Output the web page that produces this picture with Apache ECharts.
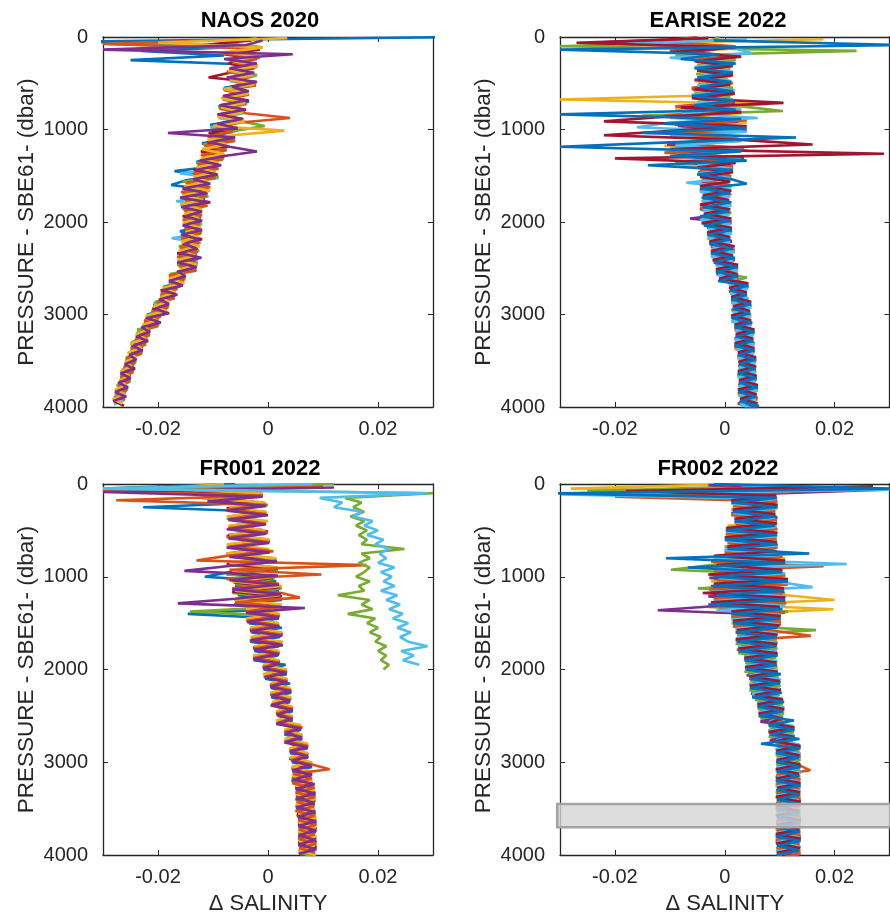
<!DOCTYPE html>
<html><head><meta charset="utf-8">
<script src="https://cdn.jsdelivr.net/npm/echarts@6/dist/echarts.min.js"></script>
<style>html,body{margin:0;padding:0;background:#fff}#c{width:890px;height:920px}</style>
</head><body><div id="c"></div>
<script>
// ---------- pressure sampling of the profiles (dbar) ----------
const PRESSURE_A = [0,50,100,150,200,250,300,350,400,450,500,550,600,650,700,750,800,850,900,950,1000,1050,1100,1150,1200,1250,1300,1350,1400,1450,1500,1550,1600,1650,1700,1750,1800,1850,1900,1950,2000,2050,2100,2150,2200,2250,2300,2350,2400,2450,2500,2550,2600,2650,2700,2750,2800,2850,2900,2950,3000,3050,3100,3150,3200,3250,3300,3350,3400,3450,3500,3550,3600,3650,3700,3750,3800,3850,3900,3950,4000];
const PRESSURE_B = [25,75,125,175,225,275,325,375,425,475,525,575,625,675,725,775,825,875,925,975,1025,1075,1125,1175,1225,1275,1325,1375,1425,1475,1525,1575,1625,1675,1725,1775,1825,1875,1925,1975,2025,2075,2125,2175,2225,2275,2325,2375,2425,2475,2525,2575,2625,2675,2725,2775,2825,2875,2925,2975,3025,3075,3125,3175,3225,3275,3325,3375,3425,3475,3525,3575,3625,3675,3725,3775,3825,3875,3925,3975,4025];
const PRESSURE_C = [12,62,112,162,212,262,312,362,412,462,512,562,612,662,712,762,812,862,912,962,1012,1062,1112,1162,1212,1262,1312,1362,1412,1462,1512,1562,1612,1662,1712,1762,1812,1862,1912,1962,2012,2062,2112,2162,2212,2262,2312,2362,2412,2462,2512,2562,2612,2662,2712,2762,2812,2862,2912,2962,3012,3062,3112,3162,3212,3262,3312,3362,3412,3462,3512,3562,3612,3662,3712,3762,3812,3862,3912,3962,4012];
const PRESSURE_D = [37,87,137,187,237,287,337,387,437,487,537,587,637,687,737,787,837,887,937,987,1037,1087,1137,1187,1237,1287,1337,1387,1437,1487,1537,1587,1637,1687,1737,1787,1837,1887,1937,1987,2037,2087,2137,2187,2237,2287,2337,2387,2437,2487,2537,2587,2637,2687,2737,2787,2837,2887,2937,2987,3037,3087,3137,3187,3237,3287,3337,3387,3437,3487,3537,3587,3637,3687,3737,3787,3837,3887,3937,3987,4037];

// ---------- Δ salinity profiles, in units of 0.001 ----------
// NAOS 2020
const naos_blue = [35,
 -35,-2,-23,-8,-25,-2.5,-7,-3,-6.5,-2.5,
 -8,-4,-7.5,-3.5,-9,-4.5,-8.5,-5,-10.5,-6,
 -10,-7,-12,-8,-11.5,-9,-13,-10,-17,-9.5,
 -15,-17.6,-11,-15.5,-11.5,-14.5,-12.5,-15,-12.2,-14.8,
 -12.5,-16,-13,-15,-12.8,-16,-13,-16.2,-12.8,-15.8,
 -15.2,-17.8,-15.5,-19,-17,-19.5,-18.2,-20.8,-18.5,-22,
 -20,-22.5,-21.8,-23.8,-22,-24.8,-22.8,-25,-24.2,-25.8,
 -24.5,-26.5,-25,-26.8,-25.8,-27.2,-26,-28,null,null];
const naos_cyan = [-4,
 -29,-3,-8,-2,-7,-3,-6.5,-2.5,-7,-3,
 -7.5,-4,-8,-3.8,-8.8,-4.5,-9,-5,-10.5,-6,
 -10.8,-6.5,-11.5,-8,-12,-8.5,-12.8,-9.5,-16,-9,
 -15,-11,-15.5,-10.8,-16.7,-11.5,-15,-12.2,-15.2,-12,
 -15,-12.5,-17.5,-12.2,-15.5,-13,-16,-12.8,-16.2,-13,
 -17.5,-15.2,-17.8,-16.8,-19.2,-17,-20.8,-18.2,-21,-19.8,
 -22.2,-20,-23.5,-21.8,-24,-22.8,-24.8,-23,-25.8,-24.2,
 -26,-25,-26.5,-25,-27.2,-25.8,-27.5,-26.2,-28,null];
const naos_green = [-2,
 -8,-1,-6,-1.5,-7,-2.2,-6.8,-2,-7.2,-2.8,
 -8.2,-3.8,-7.8,-4,-9,-4.2,-8.8,-4.8,-0.6,-5.8,
 -10.5,-6,-11.8,-7.8,-12,-8,-13,-9.2,-13.2,-9,
 -15.5,-10.8,-15.2,-11,-15,-11.5,-15.5,-12.5,-15.2,-12.2,
 -15.2,-12,-15.5,-12.8,-16.2,-12.5,-16,-13,-16.5,-13.2,
 -17.8,-15,-18,-16.5,-19.2,-17.2,-20.5,-18,-21.2,-19.5,
 -22.5,-19.8,-23.8,-21.5,-24,-22.5,-25,-22.8,-25.8,-24,
 -26.2,-24.5,-26.8,-25,-27.5,-25.5,-27.8,-26.2,null,null];
const naos_maroon = [-3,
 -12,-1.5,-8,-2,-7.2,-2.5,-7,-10.8,-2.2,-6.8,
 -3.8,-8,-3.5,-8.5,-4,-9.2,-4.5,-9,-5.5,-10.8,
 -6,-11,-7.2,-12.2,-7.8,-12.4,-9,-13.5,-9.2,-13.2,
 -10.8,-15.5,-11,-15.8,-10.5,-15.2,-12.2,-15.5,-12,-15.2,
 -12.2,-15.2,-12,-15.5,-12.8,-16.5,-12.5,-16.2,-13,-16.5,
 -15.2,-17.8,-15.5,-19.5,-16.8,-19.2,-18.2,-21,-18,-22.2,
 -19.8,-22.2,-21.5,-24,-21.8,-24.8,-22.8,-25,-24,-26,
 -24.2,-26.5,-25,-26.8,-25.5,-27.5,-25.8,-28,-26.2,null];
const naos_orange = [-5,
 -30,-2,-8.5,-1.5,-6.5,-2,-7.5,-3,-6,-2.2,
 -8,-3.5,-8.2,-4,-8.8,-4,4,-5,-9.5,-6.5,
 -11,-6,-11.5,-7.5,-12.2,-8.2,-12.8,-9,-13.5,-9.5,
 -14.8,-10.5,-15.8,-11.2,-15,-11,-15.2,-12,-15.5,-12.5,
 -15,-12.2,-15.8,-12.5,-16,-12.8,-16.5,-13.2,-16.2,-13,
 -18,-15.2,-17.5,-16.5,-19.5,-17,-20.2,-18.2,-21,-19.5,
 -22.5,-20,-23,-21.5,-24.2,-22.2,-24.8,-23,-25.8,-24.2,
 -26.2,-24.5,-26.8,-25.2,-27.2,-25.8,-27.5,-26,null,null];
const naos_yellow = [3.5,
 -20,-1,-7.5,-2.5,-6.2,-1.8,-7.2,-2.8,-7,-2.5,
 -8,-3.6,-8.5,-4.2,-8.5,-4.5,-9.2,-4.2,-10,3,
 -6.5,-11,-7.5,-12,-8,-12.2,-9,-13,-9.5,-13.5,
 -11,-15.2,-10.5,-15.5,-11.8,-16,-12,-15.2,-12.5,-15.5,
 -12.2,-15,-12.8,-15.8,-12.4,-16.2,-13.2,-16.5,-12.8,-16,
 -15.5,-18,-15.2,-19.2,-16.8,-19.5,-18,-20.8,-18.5,-22.2,
 -20.2,-22.8,-21.8,-24,-22.2,-25,-23,-25.5,-24,-26,
 -24.8,-26.8,-25.2,-27,-25.8,-27.8,-26,-28.2,-26.5,null];
const naos_purple = [-1,
 -4,-30,4.5,-8,-2,-7,-2.5,-7.5,-2,-6.5,
 -3.5,-8.2,-4,-8.8,-4.2,-9,-4.8,-9.2,-5.5,-18.2,
 -6,-10.5,-7,-2,-8,-12.4,-8.5,-13.2,-9.2,-13.6,
 -10.5,-15.5,-11.2,-16,-10.8,-15.8,-12,-15,-12.2,-15.5,
 -12,-15.8,-12.5,-15.2,-13,-16,-12.1,-16.5,-13,-16.2,
 -15,-18,-15.5,-19.2,-16.5,-19.8,-18,-20.5,-18.2,-22,
 -19.5,-23,-21.5,-23.8,-22,-24.5,-23,-25.2,-24,-26,
 -24.5,-26.8,-25,-27.2,-25.5,-27.8,-26,-28.2,null,null];

// EARISE 2022
const ea_green = [-1,
 -3,-30,24,-9,2,-5,1,-5.2,0.5,-4.8,
 1.5,-5.5,1,-5,3,10.6,-15,2,-9,3.5,
 -8,2.5,-10,3,-7,1.5,-9,1,-4.5,1.2,
 -4,0.8,-4.2,1,-3.8,0.5,-4.5,1.2,-4,0.5,
 -3,1,-2.8,1.2,-2.2,1.5,-2.5,1.8,-1.5,2,
 -1,4,1,4.2,0.8,4,1.5,4.5,1.2,4.8,
 1.5,4.6,2,5.2,2.2,5,1.8,5.4,2.5,5.5,
 2.6,5.6,2.4,5.7,2.6,6,2.5,5.8,3,5.5];
const ea_yellow = [18,
 -20,1,-8,2,-5,1,-4.8,1.2,-5.5,0.5,
 -5.8,1.5,-30,8,-9,3,-10,4,-8,2,
 -9.5,3,-11,2.5,-7,3.5,-8.5,1,-5,1.2,
 -4.5,1,-3.8,0.8,-4.2,1.2,-4,0.5,-4.5,1,
 -3,1.2,-3.2,1,-2.5,1.8,-2.2,1.5,-1.5,2.2,
 -1.2,2.4,0.8,4,1,4.3,1.2,4.6,1.5,4.8,
 1.2,4.5,1.8,5.2,2,5.4,1.8,5,2.4,5.5,
 2.5,5.7,2.4,5.5,2.6,5.8,2.4,6,3,null];
const ea_purple = [-3,
 -24,1,-6,2,-5.2,1.5,-5,0.8,-5.5,1,
 -6,1.2,-5.5,1.8,-7,3,-10,2.5,-8.5,4,
 -9,3,-10.5,2,-8,3.5,-6,1.5,-4.8,1,
 -4.2,1.2,-4.5,0.5,-3.8,1,-4.5,0.8,-6.3,1.2,
 -3.2,1,-2.8,1.3,-2.5,1.5,-2,1.8,-1.6,2.2,
 -1.5,2.4,0.8,4.2,1.2,4,1.2,4.8,1.5,4.5,
 1.8,4.8,2,5,1.8,5.4,2.2,5.2,2.4,5.6,
 2.8,5.5,2.4,5.7,2.5,6,2.8,5.8,2.4,6];
const ea_orange = [-5,
 -12,2,-10,1,-5.5,1.5,-5,1,-4.5,1.5,
 -6,1.8,-5,1.5,-9,2,-11,4,-7.5,3,
 -10,2.5,-9,3.5,-11,2,-5,1.5,-4.5,1,
 -4.2,1,-4.5,1.2,-4,0.8,-4.5,1,-4,1.2,
 -3.2,1.3,-3,1,-2.5,1.8,-2.2,1.5,-1.6,2.4,
 -1,2.4,1,4.3,0.8,4,1.2,4.8,1.5,4.6,
 1.5,4.8,1.8,5.4,2,5,1.8,5.4,2.4,5.7,
 2.5,5.6,2.4,5.7,2.8,5.8,2.4,6,2.6,null];
const ea_cyan = [4,
 -18,2,5,-10,1,-5.5,1.5,-4.5,1.2,-5,
 1.8,-6,1.5,-5.5,3,-8,6,-10,-16,4,
 -10,3,-9,4,-7,3,-5,1.5,-4.8,1,
 -7,1.2,-4.5,1,-4.2,1.2,-4,0.8,-4.5,1,
 -3,1.3,-3.2,1,-2.2,1.8,-2.5,1.5,-1.5,2.4,
 -1.2,2.2,0.8,4.2,1,4.3,1.2,4.8,1.5,4.6,
 1.2,4.8,2,5.2,1.8,5.4,2.2,5.3,2.4,5.6,
 2.6,5.7,2.4,5.5,2.5,6,2.6,5.7,2.8,5.9];
const ea_maroon = [-3,
 -27,2,-10,3,-5.5,1.2,-5,1.5,-4.8,1,
 -5.5,1.8,-6,10.7,-8,3,-11,-22,4,-9,
 -22,3,16,-10,29,-20,2,-5,1.5,-4.5,
 1,-4.5,1.2,-4,0.8,-4.5,1,-3.8,1.2,-4.2,
 1.3,-3.2,1,-2.8,1.8,-2.5,1.5,-2.2,2.4,-1.6,
 2.4,-1,4.3,0.8,4,1.2,4.8,1.5,4.6,1.2,
 4.8,1.8,5.4,2,5.2,1.8,5.4,2.4,5.7,2.5,
 5.7,2.4,5.8,2.6,6,2.4,5.8,2.8,6,null];
const ea_blue = [-2,
 32,-30,-1,-8,2,-5.5,1.5,-5,1.2,-4.5,
 1.5,-6,1.8,-5.5,2,-30,3,-11,4,-15,
 13,-9,-30,3,-10,4,-14,1.5,-5,1.2,
 4,-4.5,1,-4.2,1.2,-4,0.8,-4.5,1.2,-3.8,
 1.3,-3.2,1,-2.8,1.5,-2.5,1.8,-2,2.4,-1.6,
 2.4,-1.2,4.3,1,4,1.2,4.8,1.5,4.6,1.2,
 5,1.8,5.4,2,5.2,1.8,5.4,2.4,5.7,2.6,
 5.6,2.4,5.8,2.6,6,2.5,5.7,2.8,6.2,2.6];

// FR001 2022
const fr1_blue = [-6,
 -30,-2,-12,-1,-22.7,-0.5,-7,-1,-6.5,-0.8,
 -7.2,0,-6.5,-1,-7.5,1,-6,1.5,-7,-11.5,
 1.5,-6,2,-5.5,2.5,-6.2,0.5,-14.6,2,-3.5,
 2.5,-3,2.2,-3.2,2,-2.5,1.8,-2.6,3.2,-0.8,
 3.4,-0.5,4,0.5,4.2,0.6,4,1.6,4.5,1.8,
 4.4,3.2,6,3,6.2,4,7.2,4,7.3,4.4,
 8,4.5,7.8,4.3,8,5.2,8.6,5,8.5,5.2,
 8.6,5.5,8.8,5.6,8.7,5.5,8.8,5.6,8.5,5.8];
const fr1_maroon = [-2,
 -25,-1,-11,-0.5,-7.5,-0.3,-7.2,-0.5,-7,0,
 -7.5,0.3,-7,0,-7.2,1.5,-7.5,1.8,-6.8,1,
 -6.2,2.2,-6.5,2.5,-5,2,-4,2.1,-3.8,2,
 -3.2,2.6,-3,2.4,-2.7,2,-2.6,2.1,-0.9,3.3,
 -0.6,3.5,0.4,4,0.5,4.2,0.8,4.5,1.5,4.4,
 1.6,6,3,6.2,3.2,7.2,4,7.3,3.9,8,
 4.3,7.9,4.5,8,5,8.5,5.1,8.6,5.2,8.4,
 5.3,8.6,5.5,8.8,5.6,8.7,5.5,8.8,5.7,null];
const fr1_green = [-4,
 -28,-1,-10,0,-7.2,-0.5,-7.5,-0.3,-6.8,0,
 -7.2,0.3,-7.5,0,-6.5,1.5,-7.2,1.8,-7.6,1.2,
 -6,2.5,-6.5,2,-5.5,2.5,-14.2,2,-4,1.8,
 -3.3,2.7,-3,2.2,-2.7,2.1,-2.5,2,-0.9,3.5,
 -0.8,3.4,0.5,4.2,0.4,4,0.6,4.5,1.5,4.4,
 1.8,6.2,3.2,6,3,7.3,3.9,7.2,4.2,8,
 4.4,8,4.3,7.8,5,8.6,5.2,8.5,5,8.6,
 5.2,8.8,5.5,8.6,5.6,8.8,5.5,8.7,5.6,8.8];
const fr1_orange = [10,
 -30,-1,-27.6,-0.5,-7.5,-0.3,-7,-0.5,-7.2,0,
 -7.5,0.3,-7,1,-7.5,-13,17.9,-7,9.7,-7.6,
 2,-6.5,2.5,5.8,-6,2.2,-4,2.1,-3.8,2,
 -3.3,2.7,-3,2.4,-2.6,2,-2.7,2.1,-0.9,3.4,
 -0.5,3.5,0.4,4.2,0.6,4,0.8,4.5,1.5,4.5,
 1.8,6.2,3,6,3.3,7.3,4,7,4.3,8,
 11.2,4.5,8,4.4,8.5,5,8.6,5.2,8.4,5,
 8.6,5.5,8.8,5.6,8.5,5.5,8.8,5.7,8.6,null];
const fr1_yellow = [-8,
 -20,-1,-12,-0.5,-7,-0.3,-7.5,0,-7.2,-0.5,
 -7,0.3,-7.5,0.2,-7.6,1.5,-7,1.8,-6.5,1.5,
 -6.5,2.5,-6,2.2,-6.2,2.5,-4,2.1,-4,2,
 -3.3,2.6,-3.2,2.7,-2.5,2.1,-2.7,2,-0.8,3.4,
 -0.9,3.5,0.5,4,0.4,4.2,0.8,4.4,1.5,4.5,
 1.5,6,3,6.2,3,7.3,3.9,7.2,4,8,
 4.3,7.8,4.5,8,5,8.5,5.2,8.6,5.1,8.4,
 5.5,8.8,5.6,8.7,5.5,8.8,5.6,8.5,5.5,8.7];
const fr1_purple = [12,
 -30,-1,-11,-0.3,-7.5,0,-7.2,-0.4,-7.5,-0.3,
 -7.2,0.2,-7.5,0.3,-7,1.6,-7.5,-15.2,1.8,-7,
 2,-6.5,2.4,-6,-16.4,6.7,-4,2,-3.8,2.1,
 -3.2,2.5,-3.3,2.7,-2.5,2,-2.7,2.1,-0.9,3.3,
 -0.6,3.5,0.4,4.2,0.6,4,0.5,4.5,1.6,4.4,
 1.5,6,3.2,6.2,3,7.2,4,7.3,4.3,7.9,
 4.4,8,4.5,8.5,5,8.6,5.2,8.4,5.1,8.6,
 5.4,8.7,5.5,8.8,5.6,8.6,5.5,8.8,5.6,null];
const fr1_outlier_cyan = [8,
 -30,29,9.4,13.5,12,17,15.5,19,17.5,20,
 18,21,19.5,22,20.3,21.5,20,23,20.5,22.5,
 21,23,20.5,23.5,21.5,24,22,24.5,22.7,25.5,
 23.5,26,24,25.5,29,24.2,26.5,24.5,27.5,null];
const fr1_outlier_green = [12,
 -30,30,14,17,15.5,17.5,15,17.5,16,18,
 16.5,18,17,24.8,17,18.5,16.5,18.5,17.5,16,
 18.5,16.5,17.5,12.7,18.5,17,19,14.5,19.5,18,
 20,18.5,20.5,19.5,21.5,20,21.5,20.5,22,21];

// FR002 2022
const fr2_yellow = [2,
 -28,9,3,8.5,1.5,9.2,2,9.5,0.5,8.8,
 0.2,9.5,1,9,0,11,-2,10.5,-1,11,
 -2.5,10,0,11.2,20,0.5,19.8,1.5,10,1.2,
 9.6,2,9.2,2.2,9.5,2.5,9.6,3.6,9.2,3.8,
 9.5,4.5,10,4.6,10.2,5,10.5,6,10.8,6.2,
 10.6,8,12.5,8.2,12.7,9.3,13.5,9.4,13.8,9.5,
 13.6,9.3,13.8,9.6,13.5,9.4,13.8,9.5,13.6,9.4,
 13.8,9.5,13.6,9.3,13.8,9.4,13.5,9.6,13.8,9.5];
const fr2_green = [5,
 -25,9,1.5,9.6,1.2,9.2,1.8,9.4,0.2,9.5,
 0.5,9,0,9.6,-1.5,10.5,-2.5,-9.8,11,-2,
 10.8,-4.9,11,-1,10.5,-2.8,11.5,1.2,10.2,1.5,
 16.6,2.2,9.5,2,9.6,2.5,9.4,3.7,9.6,3.6,
 9.8,4.6,10.2,4.5,10,5.5,10.6,6,10.8,6.5,
 10.5,8.2,12.6,8,12.4,9.4,13.6,9.3,13.8,9.4,
 13.7,9.5,13.5,9.4,13.8,9.3,13.6,9.5,13.8,9.4,
 13.5,9.6,13.8,9.3,13.7,9.5,13.6,9.4,13.8,null];
const fr2_purple = [-3,
 29,4,9.5,1.5,9,1.2,9.6,1.8,9.4,0.5,
 9.2,0.3,9.6,0,10,-2,11,-1.5,10.5,-2.8,
 11.2,-2,10.8,-3,11,-1,-12.2,9.8,1.5,10.2,
 2,9.4,2.2,9.6,2.5,9.5,3.6,9.2,3.8,9.6,
 4,10,4.5,10.2,4.8,10,6,10.8,6.2,10.6,
 6.5,12.5,8,12.7,8.2,13.5,9.3,13.8,9.5,13.6,
 9.4,13.8,9.3,13.5,9.5,13.7,9.4,13.8,9.3,13.6,
 9.5,13.8,9.4,13.5,9.6,13.8,9.3,13.7,9.5,13.6];
const fr2_cyan = [3,
 30,-29.8,9.5,1.2,9.6,1.5,9.2,2,9.4,0.3,
 9.6,0.2,9.5,0,10.5,-2,22.2,-2.5,11,-1,
 10.5,16,-2.5,11.2,-2,11,-1.5,10.2,1.2,10,
 2,9.6,2.2,9.5,2.5,9.4,3.6,9.6,3.8,9.5,
 4.5,10.2,4.6,10,5,10.5,6,10.8,6.2,10.5,
 8.2,12.6,8,12.7,9.4,13.7,9.3,13.8,9.5,13.5,
 9.4,13.8,9.5,13.6,9.3,13.8,9.4,13.5,9.6,13.8,
 9.3,13.7,9.5,13.8,9.4,13.6,9.5,13.8,9.3,null];
const fr2_orange = [0,
 12,-20,9.6,1.5,9.2,1.2,9.5,2,9.6,0.2,
 9.4,0.5,9.6,0,10.5,-2.5,18,-2,11,-1.5,
 11.5,-2.8,10.5,-2,11.2,-1,11,1.2,10.2,1.5,
 9.6,15.7,2,9.5,2.2,9.6,3.6,9.4,3.8,9.6,
 4.5,10.2,4.6,10,5,10.4,6,10.8,6.3,10.6,
 8,12.5,8.2,12.7,9.3,13.6,9.5,13.8,9.4,13.7,
 15.6,9.4,13.8,9.3,13.6,9.5,13.8,9.4,13.5,9.6,
 13.8,9.4,13.7,9.5,13.8,9.3,13.6,9.5,13.8,9.4];
const fr2_maroon = [27,
 -18,9.4,1.2,9.6,1.5,9.2,1.8,9.5,0.3,9.6,
 0,9.5,0.5,9.4,-2,11,-1.5,10.5,-3,11.5,
 -2,10.8,-4,11,-2.5,10,1.2,10.2,1.5,10,
 2.2,9.6,2,9.5,2.5,9.6,3.6,9.4,3.7,9.6,
 4.5,10,4.6,10.2,5.5,10.6,6,10.8,6.2,10.5,
 8.2,12.7,8,12.6,9.3,13.8,9.4,13.6,9.5,13.8,
 9.3,13.5,9.4,13.8,9.6,13.7,9.3,13.8,9.5,13.6,
 9.4,13.8,9.5,13.6,9.3,13.8,9.4,13.7,9.5,null];
const fr2_blue = [-2,
 31,-31,9.5,1.2,9.6,1.5,9.4,1.8,9.2,0.2,
 9.5,0,9.6,0.5,15.4,-10.7,11,-6.7,10.5,-2,
 11.5,-2.5,10.8,-1.5,11,-3,10.5,1.2,10.2,1.5,
 9.6,2,9.5,2.2,9.4,2.5,9.6,3.6,9.5,3.8,
 10.2,4.5,10,4.6,10.4,5,10.8,6,10.6,6.2,
 12.6,8,12.7,8.2,13.6,6.6,13.8,9.3,13.5,9.4,
 13.8,9.5,13.6,9.3,13.8,9.4,13.7,9.5,13.8,9.3,
 13.6,9.5,13.8,9.4,13.7,9.3,13.8,9.5,13.6,9.4];

// ---------- labels / ticks ----------
const panelTitles = ['NAOS 2020', 'EARISE 2022', 'FR001 2022', 'FR002 2022'];
const xTickValues = [-0.02, 0, 0.02];
const yTickValues = [0, 1000, 2000, 3000, 4000];
const shadedBandPressure = [3450, 3700];   // FR002 highlighted layer
const shadedBandSalinity = [-0.0305, 0.0305];

// ---------- styles ----------
const PAL = {blue:'#0072BD', orange:'#D95319', yellow:'#EDB120', purple:'#7E2F8E', green:'#77AC30', cyan:'#4DBEEE', maroon:'#A2142F'};
const FONT = '"Liberation Sans", Arial, Helvetica, sans-serif';
const AX = '#262626';
const GRIDS = {A: PRESSURE_A, B: PRESSURE_B, C: PRESSURE_C, D: PRESSURE_D};

// [profile, pressure sampling, colour]  (drawing order)
const panelProfiles = [
  [[naos_blue,'A','blue'],[naos_cyan,'B','cyan'],[naos_green,'C','green'],[naos_maroon,'D','maroon'],[naos_orange,'B','orange'],[naos_yellow,'C','yellow'],[naos_purple,'D','purple']],
  [[ea_green,'A','green'],[ea_yellow,'B','yellow'],[ea_purple,'C','purple'],[ea_orange,'A','orange'],[ea_cyan,'B','cyan'],[ea_maroon,'C','maroon'],[ea_blue,'D','blue']],
  [[fr1_blue,'A','blue'],[fr1_green,'B','green'],[fr1_maroon,'C','maroon'],[fr1_yellow,'A','yellow'],[fr1_orange,'B','orange'],[fr1_purple,'D','purple'],[fr1_outlier_green,'A','green'],[fr1_outlier_cyan,'A','cyan']],
  [[fr2_yellow,'A','yellow'],[fr2_green,'B','green'],[fr2_purple,'C','purple'],[fr2_orange,'D','orange'],[fr2_cyan,'C','cyan'],[fr2_maroon,'B','maroon'],[fr2_blue,'A','blue']]
];

const gridBoxes = [
  {left:103, top:37, width:330, height:370},
  {left:560, top:37, width:329.5, height:370},
  {left:103, top:484, width:330, height:371},
  {left:560, top:484, width:329.5, height:371}
];
const titlePos = [{left:255, top:5}, {left:713, top:5}, {left:255, top:453}, {left:713, top:453}];

const fmt = v => String(+(+v).toFixed(4));

const xAxes = [], yAxes = [], series = [], titles = [];
gridBoxes.forEach((g, gi) => {
  const bottomRow = gi >= 2;
  const lineSt = {color: AX, width: 1.3};
  xAxes.push({
    type:'value', gridIndex:gi, position:'bottom', min:-0.03, max:0.03,
    axisLine:{show:true, onZero:false, lineStyle:lineSt},
    axisTick:{show:true, inside:true, length:5, customValues:xTickValues, lineStyle:{color:AX}},
    axisLabel:{show:true, customValues:xTickValues, formatter:fmt, fontSize:20, color:AX, fontFamily:FONT, margin:12},
    splitLine:{show:false},
    name: bottomRow ? 'Δ SALINITY' : '', nameLocation:'middle', nameGap:38,
    nameTextStyle:{fontSize:22, color:AX, fontFamily:FONT}
  });
  xAxes.push({
    type:'value', gridIndex:gi, position:'top', min:-0.03, max:0.03,
    axisLine:{show:true, onZero:false, lineStyle:lineSt},
    axisTick:{show:true, inside:true, length:5, customValues:xTickValues, lineStyle:{color:AX}},
    axisLabel:{show:false}, splitLine:{show:false}
  });
  yAxes.push({
    type:'value', gridIndex:gi, position:'left', inverse:true, min:0, max:4000, interval:1000,
    axisLine:{show:true, onZero:false, lineStyle:lineSt},
    axisTick:{show:true, inside:true, length:5, customValues:yTickValues, lineStyle:{color:AX}},
    axisLabel:{show:true, customValues:yTickValues, formatter:v => String(Math.round(v)), fontSize:20, color:AX, fontFamily:FONT, margin:15},
    splitLine:{show:false},
    name:'PRESSURE - SBE61- (dbar)', nameLocation:'middle', nameGap:65, nameRotate:90,
    nameTextStyle:{fontSize:22.5, color:AX, fontFamily:FONT}
  });
  yAxes.push({
    type:'value', gridIndex:gi, position:'right', inverse:true, min:0, max:4000, interval:1000,
    axisLine:{show:true, onZero:false, lineStyle:lineSt},
    axisTick:{show:true, inside:true, length:5, customValues:yTickValues, lineStyle:{color:AX}},
    axisLabel:{show:false}, splitLine:{show:false}
  });
  titles.push({
    text: panelTitles[gi], left: titlePos[gi].left, top: titlePos[gi].top, textAlign:'center',
    textStyle:{fontSize:22, fontWeight:'bold', color:'#000', fontFamily:FONT}
  });
  panelProfiles[gi].forEach(([vals, gridName, colorKey]) => {
    const P = GRIDS[gridName];
    const data = [];
    for (let i = 0; i < vals.length && i < P.length; i++) {
      if (vals[i] !== null) data.push([vals[i] / 1000, P[i]]);
    }
    series.push({
      type:'line', xAxisIndex: 2*gi, yAxisIndex: 2*gi, data,
      showSymbol:false, symbol:'none', silent:true, animation:false, clip:true,
      lineStyle:{color: PAL[colorKey], width:2.6}, z:2
    });
  });
});

// highlighted pressure band on FR002
series.push({
  type:'custom', xAxisIndex:6, yAxisIndex:6, silent:true, animation:false, z:10, clip:false,
  data:[[shadedBandSalinity[0], shadedBandPressure[0], shadedBandSalinity[1], shadedBandPressure[1]]],
  encode:{x:[0,2], y:[1,3]},
  renderItem:(params, api) => {
    const a = api.coord([api.value(0), api.value(1)]);
    const b = api.coord([api.value(2), api.value(3)]);
    return {type:'rect',
      shape:{x:Math.min(a[0],b[0]), y:Math.min(a[1],b[1]), width:Math.abs(b[0]-a[0]), height:Math.abs(b[1]-a[1])},
      style:{fill:'rgba(212,212,212,0.8)', stroke:'#a3a3a3', lineWidth:2.5}};
  }
});

const chart = echarts.init(document.getElementById('c'), null, {renderer:'canvas'});
chart.setOption({
  animation:false, backgroundColor:'#fff',
  title: titles, grid: gridBoxes, xAxis: xAxes, yAxis: yAxes, series
});
</script></body></html>
